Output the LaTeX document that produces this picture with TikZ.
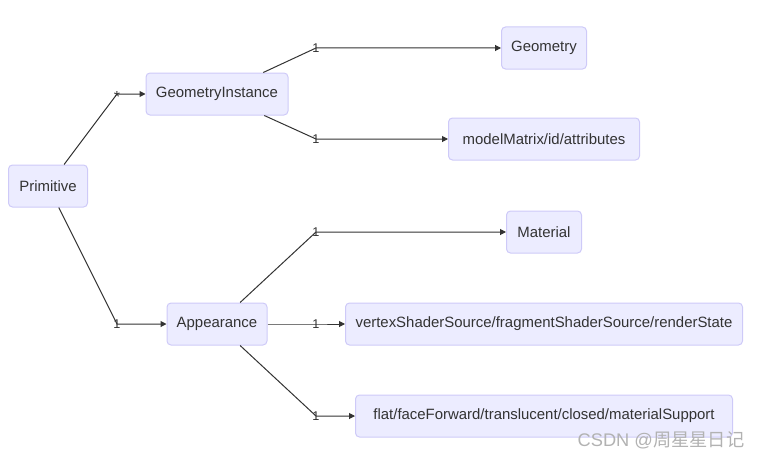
\documentclass[tikz,border=0pt]{standalone}
\usepackage{fontspec}
\setmainfont{Liberation Sans}
\newfontfamily\cjkfont{Noto Sans CJK SC}
\usetikzlibrary{arrows.meta}
\definecolor{mm_fill}{RGB}{236, 236, 255}
\definecolor{mm_line}{RGB}{206, 202, 248}
\definecolor{mm_edge}{RGB}{51, 51, 51}
\definecolor{mm_mark}{RGB}{178, 178, 178}
\tikzstyle{box}=[rectangle,rounded corners=3pt,fill=mm_fill,draw=mm_line,
  line width=0.75pt,inner sep=0pt,minimum height=31.5pt,text=mm_edge,
  font=\fontsize{11.2}{13}\selectfont]
\tikzstyle{link}=[draw=mm_edge,line width=0.75pt,
  -{Triangle[length=4.5pt,width=4.5pt]}]
\tikzstyle{card}=[inner sep=0pt,text=mm_edge,font=\fontsize{9.5}{10}\selectfont]

\begin{document}
\begin{tikzpicture}[x=0.75pt,y=-0.75pt]
    \useasboundingbox (0,0) rectangle (762,460);
    \node [style=box,minimum width=59.25pt] (prim) at (48,186) {Primitive};
    \node [style=box,minimum width=106.5pt] (gi) at (217,94) {GeometryInstance};
    \node [style=box,minimum width=75pt] (app) at (217,324) {Appearance};
    \node [style=box,minimum width=63.75pt] (geo) at (544,48) {Geometry};
    \node [style=box,minimum width=143.25pt] (mm) at (544,139) {modelMatrix/id/attributes};
    \node [style=box,minimum width=56.25pt] (mat) at (544,232) {Material};
    \node [style=box,minimum width=297.75pt] (shd) at (544,324) {vertexShaderSource/fragmentShaderSource/renderState};
    \node [style=box,minimum width=282.75pt] (flg) at (544,416) {flat/faceForward/translucent/closed/materialSupport};
    % bends carrying the multiplicities
    \coordinate (kgi) at (117,94);
    \coordinate (kapp) at (117,324);
    \coordinate (kgeo) at (316,48);
    \coordinate (kmm) at (316,139);
    \coordinate (kmat) at (316,232);
    \coordinate (kshd) at (316,324);
    \coordinate (kflg) at (316,416);
    \draw [style=link] (prim) -- (kgi) -- (gi);
    \draw [style=link] (prim) -- (kapp) -- (app);
    \draw [style=link] (gi) -- (kgeo) -- (geo);
    \draw [style=link] (gi) -- (kmm) -- (mm);
    \draw [style=link] (app) -- (kmat) -- (mat);
    \draw [style=link] (app) -- (kshd) -- (shd);
    \draw [style=link] (app) -- (kflg) -- (flg);
    \node [style=card,font=\fontsize{12}{12}\selectfont] (cgi) at ([yshift=-2.5pt]kgi) {*};
    \node [style=card] (capp) at (kapp) {1};
    \node [style=card] (cgeo) at (kgeo) {1};
    \node [style=card] (cmm) at (kmm) {1};
    \node [style=card] (cmat) at (kmat) {1};
    \node [style=card] (cshd) at (kshd) {1};
    \node [style=card] (cflg) at (kflg) {1};
    \node [text=mm_mark,font=\fontsize{13.7}{15}\selectfont,inner sep=0pt] (wm) at (661,440) {CSDN @{\cjkfont 周星星日记}};
\end{tikzpicture}
\end{document}
